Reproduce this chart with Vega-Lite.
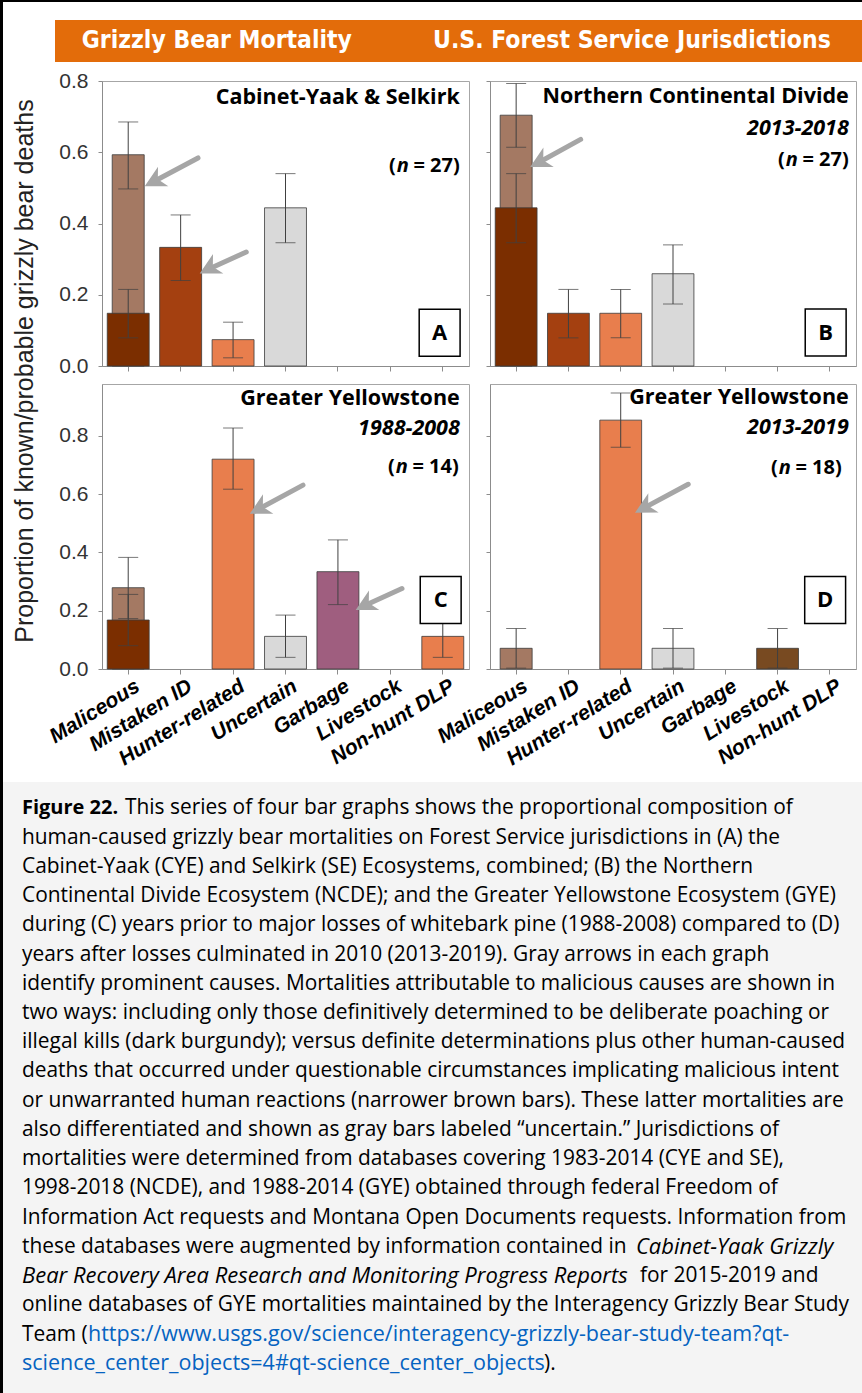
{
  "$schema": "https://vega.github.io/schema/vega-lite/v6.json",
  "padding": 0,
  "background": "white",
  "config": {
    "view": {"stroke": "#a6a6a6", "strokeWidth": 1},
    "axis": {"grid": false, "domainColor": "#8c8c8c", "tickColor": "#8c8c8c", "title": null, "labelFont": "Liberation Sans"}
  },
  "datasets": {
    "bars": [
      {"panel": "A", "cause": "Maliceous", "kind": "broad", "p": 0.593, "lo": 0.497, "hi": 0.685},
      {"panel": "A", "cause": "Maliceous", "kind": "definite", "p": 0.148, "lo": 0.079, "hi": 0.215},
      {"panel": "A", "cause": "Mistaken ID", "kind": "definite", "p": 0.333, "lo": 0.240, "hi": 0.424},
      {"panel": "A", "cause": "Hunter-related", "kind": "definite", "p": 0.074, "lo": 0.023, "hi": 0.123},
      {"panel": "A", "cause": "Uncertain", "kind": "definite", "p": 0.444, "lo": 0.346, "hi": 0.540},
      {"panel": "B", "cause": "Maliceous", "kind": "broad", "p": 0.704, "lo": 0.614, "hi": 0.793},
      {"panel": "B", "cause": "Maliceous", "kind": "definite", "p": 0.444, "lo": 0.346, "hi": 0.540},
      {"panel": "B", "cause": "Mistaken ID", "kind": "definite", "p": 0.148, "lo": 0.079, "hi": 0.215},
      {"panel": "B", "cause": "Hunter-related", "kind": "definite", "p": 0.148, "lo": 0.079, "hi": 0.215},
      {"panel": "B", "cause": "Uncertain", "kind": "definite", "p": 0.259, "lo": 0.174, "hi": 0.340},
      {"panel": "C", "cause": "Maliceous", "kind": "broad", "p": 0.279, "lo": 0.173, "hi": 0.383},
      {"panel": "C", "cause": "Maliceous", "kind": "definite", "p": 0.168, "lo": 0.080, "hi": 0.256},
      {"panel": "C", "cause": "Hunter-related", "kind": "definite", "p": 0.720, "lo": 0.617, "hi": 0.827},
      {"panel": "C", "cause": "Uncertain", "kind": "definite", "p": 0.112, "lo": 0.040, "hi": 0.185},
      {"panel": "C", "cause": "Garbage", "kind": "definite", "p": 0.334, "lo": 0.221, "hi": 0.443},
      {"panel": "C", "cause": "Non-hunt DLP", "kind": "definite", "p": 0.112, "lo": 0.040, "hi": 0.184},
      {"panel": "D", "cause": "Maliceous", "kind": "broad", "p": 0.071, "lo": 0.003, "hi": 0.139},
      {"panel": "D", "cause": "Hunter-related", "kind": "definite", "p": 0.854, "lo": 0.761, "hi": 0.947},
      {"panel": "D", "cause": "Uncertain", "kind": "definite", "p": 0.071, "lo": 0.003, "hi": 0.139},
      {"panel": "D", "cause": "Livestock", "kind": "definite", "p": 0.071, "lo": 0.003, "hi": 0.139}
    ],
    "arrows": [
      {"panel": "A", "x": 1.331, "y": 0.584, "x2": 0.426, "y2": 0.513},
      {"panel": "A", "x": 2.252, "y": 0.320, "x2": 1.475, "y2": 0.268},
      {"panel": "B", "x": 1.234, "y": 0.636, "x2": 0.379, "y2": 0.567},
      {"panel": "C", "x": 3.334, "y": 0.631, "x2": 2.429, "y2": 0.543},
      {"panel": "C", "x": 5.222, "y": 0.276, "x2": 4.45, "y2": 0.213},
      {"panel": "D", "x": 3.291, "y": 0.634, "x2": 2.385, "y2": 0.547}
    ],
    "boxes": [
      {"panel": "A", "x": 5.94, "y": 0.0935, "label": "A"},
      {"panel": "B", "x": 5.92, "y": 0.094, "label": "B"},
      {"panel": "C", "x": 5.96, "y": 0.237, "label": "C"},
      {"panel": "D", "x": 5.91, "y": 0.237, "label": "D"}
    ],
    "notes": [
      {"panel": "A", "role": "title", "text": "Cabinet-Yaak & Selkirk", "y": 0.753},
      {"panel": "A", "role": "n", "text": "= 27)", "y": 0.561},
      {"panel": "B", "role": "title", "text": "Northern Continental Divide", "y": 0.756},
      {"panel": "B", "role": "years", "text": "2013-2018", "y": 0.664},
      {"panel": "B", "role": "n", "text": "= 27)", "y": 0.577},
      {"panel": "C", "role": "title", "text": "Greater Yellowstone", "y": 0.928},
      {"panel": "C", "role": "years", "text": "1988-2008", "y": 0.823},
      {"panel": "C", "role": "n", "text": "= 14)", "y": 0.694},
      {"panel": "D", "role": "title", "text": "Greater Yellowstone", "y": 0.931},
      {"panel": "D", "role": "years", "text": "2013-2019", "y": 0.826},
      {"panel": "D", "role": "n", "text": "= 18)", "y": 0.691}
    ]
  },
  "spacing": 0,
  "hconcat": [
    {"width": 3, "height": 1393, "data": {"values": []}, "mark": "point", "view": {"fill": "#000000", "stroke": null}},
    {
      "spacing": 12,
      "vconcat": [
        {
          "spacing": 7,
          "vconcat": [
            {
              "spacing": 18,
              "vconcat": [
                {"width": 859, "height": 2, "data": {"values": []}, "mark": "point", "view": {"fill": "#000000", "stroke": null}},
                {
                  "spacing": 0,
                  "hconcat": [
                    {"width": 52, "height": 42, "data": {"values": []}, "mark": "point", "view": {"stroke": null}},
                    {
                      "width": 807, "height": 42,
                      "view": {"fill": "#e36c0a", "stroke": null},
                      "data": {"values": [{"t": "Grizzly Bear Mortality"}, {"t": "U.S. Forest Service Jurisdictions"}]},
                      "mark": {"type": "text", "font": "DejaVu Sans Condensed", "fontWeight": "bold", "fontSize": 24.5, "color": "#ffffff"},
                      "encoding": {
                        "text": {"field": "t"},
                        "x": {"field": "t", "type": "nominal", "sort": null, "scale": {"type": "point", "padding": 0.472, "align": 0.413}, "axis": null}
                      }
                    }
                  ]
                }
              ]
            },
            {
              "spacing": 0,
              "hconcat": [
                {
                  "width": 42, "height": 580,
                  "view": {"stroke": null},
                  "data": {"values": [{"t": "Proportion of known/probable grizzly bear deaths"}]},
                  "mark": {"type": "text", "angle": 270, "font": "Liberation Sans", "fontSize": 25, "color": "#222222"},
                  "encoding": {
                    "text": {"field": "t"},
                    "x": {"field": "t", "type": "nominal", "scale": {"type": "point", "align": 0.514}, "axis": null},
                    "y": {"field": "t", "type": "nominal", "scale": {"type": "point", "align": 0.5}, "axis": null}
                  }
                },
                {
                  "columns": 2,
                  "bounds": "flush",
                  "spacing": {"row": 18, "column": 21},
                  "concat": [
                    {
                      "width": 367, "height": 285,
                      "resolve": {"scale": {"x": "independent"}},
                      "layer": [
                        {
                          "encoding": {"x": {"field": "cause", "type": "nominal", "scale": {"domain": ["Maliceous", "Mistaken ID", "Hunter-related", "Uncertain", "Garbage", "Livestock", "Non-hunt DLP"], "paddingInner": 0.2, "paddingOuter": 0.1}, "axis": {"labels": false, "tickSize": 5, "bandPosition": 0.5}}},
                          "layer": [
                            {"data": {"name": "bars"}, "transform": [{"filter": "datum.panel === 'A' && datum.kind === 'broad'"}],
                             "mark": {"type": "bar", "width": 32, "color": "#a47963", "stroke": "#3b3b3b", "strokeWidth": 0.8},
                             "encoding": {"y": {"field": "p", "type": "quantitative", "scale": {"domain": [0, 0.8], "nice": false}, "axis": {"values": [0, 0.2, 0.4, 0.6, 0.8], "format": ".1f", "labelFontSize": 21, "labelColor": "#333333", "tickSize": 4, "labelPadding": 10}}}},
                            {"data": {"name": "bars"}, "transform": [{"filter": "datum.panel === 'A' && datum.kind === 'definite'"}],
                             "mark": {"type": "bar", "stroke": "#3b3b3b", "strokeWidth": 0.8},
                             "encoding": {"y": {"field": "p", "type": "quantitative"}, "color": {"field": "cause", "type": "nominal", "scale": {"domain": ["Maliceous", "Mistaken ID", "Hunter-related", "Uncertain", "Garbage", "Livestock", "Non-hunt DLP"], "range": ["#7b2e00", "#a44010", "#e87e4d", "#d9d9d9", "#9f5e7f", "#784a21", "#e87e4d"]}, "legend": null}}},
                            {"data": {"name": "bars"}, "transform": [{"filter": "datum.panel === 'A'"}],
                             "mark": {"type": "rule", "color": "#404040", "strokeWidth": 1},
                             "encoding": {"y": {"field": "lo", "type": "quantitative"}, "y2": {"field": "hi"}}},
                            {"data": {"name": "bars"}, "transform": [{"filter": "datum.panel === 'A'"}],
                             "mark": {"type": "tick", "orient": "horizontal", "size": 20, "thickness": 1, "color": "#404040"},
                             "encoding": {"y": {"field": "lo", "type": "quantitative"}}},
                            {"data": {"name": "bars"}, "transform": [{"filter": "datum.panel === 'A'"}],
                             "mark": {"type": "tick", "orient": "horizontal", "size": 20, "thickness": 1, "color": "#404040"},
                             "encoding": {"y": {"field": "hi", "type": "quantitative"}}},
                            {"data": {"name": "notes"}, "transform": [{"filter": "datum.panel === 'A' && datum.role === 'title'"}],
                             "mark": {"type": "text", "align": "right", "dx": -4, "font": "Open Sans", "fontWeight": "bold", "fontSize": 21.5, "color": "#000000"},
                             "encoding": {"x": {"datum": "Non-hunt DLP", "type": "nominal", "bandPosition": 1}, "y": {"field": "y", "type": "quantitative"}, "text": {"field": "text"}}},
                            {"data": {"name": "notes"}, "transform": [{"filter": "datum.panel === 'A' && datum.role === 'n'"}],
                             "mark": {"type": "text", "align": "right", "dx": -4, "font": "Open Sans", "fontWeight": "bold", "fontSize": 20, "color": "#000000"},
                             "encoding": {"x": {"datum": "Non-hunt DLP", "type": "nominal", "bandPosition": 1}, "y": {"field": "y", "type": "quantitative"}, "text": {"field": "text"}}},
                            {"data": {"name": "notes"}, "transform": [{"filter": "datum.panel === 'A' && datum.role === 'n'"}],
                             "mark": {"type": "text", "align": "right", "dx": -55, "font": "Open Sans", "fontWeight": "bold", "fontStyle": "italic", "fontSize": 20, "color": "#000000"},
                             "encoding": {"x": {"datum": "Non-hunt DLP", "type": "nominal", "bandPosition": 1}, "y": {"field": "y", "type": "quantitative"}, "text": {"value": "n"}}},
                            {"data": {"name": "notes"}, "transform": [{"filter": "datum.panel === 'A' && datum.role === 'n'"}],
                             "mark": {"type": "text", "align": "right", "dx": -68, "font": "Open Sans", "fontWeight": "bold", "fontSize": 20, "color": "#000000"},
                             "encoding": {"x": {"datum": "Non-hunt DLP", "type": "nominal", "bandPosition": 1}, "y": {"field": "y", "type": "quantitative"}, "text": {"value": "("}}}
                          ]
                        },
                        {
                          "encoding": {"x": {"field": "x", "type": "quantitative", "scale": {"domain": [-0.5, 6.5], "nice": false, "zero": false}, "axis": null}},
                          "layer": [
                            {"data": {"name": "arrows"}, "transform": [{"filter": "datum.panel === 'A'"}],
                             "mark": {"type": "rule", "color": "#a6a6a6", "strokeWidth": 5, "strokeCap": "round"},
                             "encoding": {"y": {"field": "y", "type": "quantitative"}, "x2": {"field": "x2"}, "y2": {"field": "y2"}}},
                            {"data": {"name": "arrows"}, "transform": [{"filter": "datum.panel === 'A'"}],
                             "mark": {"type": "point", "filled": true, "color": "#a6a6a6", "opacity": 1, "shape": "M0,-0.6L1,1.3L0,0.75L-1,1.3Z", "size": 484, "angle": 242},
                             "encoding": {"x": {"field": "x2", "type": "quantitative"}, "y": {"field": "y2", "type": "quantitative"}}},
                            {"data": {"name": "boxes"}, "transform": [{"filter": "datum.panel === 'A'"}],
                             "mark": {"type": "point", "shape": "M-0.87,-1L0.87,-1L0.87,1L-0.87,1Z", "size": 2209, "fill": "#ffffff", "stroke": "#000000", "strokeWidth": 1.5, "opacity": 1, "fillOpacity": 1},
                             "encoding": {"y": {"field": "y", "type": "quantitative"}}},
                            {"data": {"name": "boxes"}, "transform": [{"filter": "datum.panel === 'A'"}],
                             "mark": {"type": "text", "font": "Open Sans", "fontWeight": "bold", "fontSize": 22, "color": "#000000"},
                             "encoding": {"y": {"field": "y", "type": "quantitative"}, "text": {"field": "label"}}}
                          ]
                        }
                      ]
                    },
                    {
                      "width": 366, "height": 285,
                      "resolve": {"scale": {"x": "independent"}},
                      "layer": [
                        {
                          "encoding": {"x": {"field": "cause", "type": "nominal", "scale": {"domain": ["Maliceous", "Mistaken ID", "Hunter-related", "Uncertain", "Garbage", "Livestock", "Non-hunt DLP"], "paddingInner": 0.2, "paddingOuter": 0.1}, "axis": {"labels": false, "tickSize": 5, "bandPosition": 0.5}}},
                          "layer": [
                            {"data": {"name": "bars"}, "transform": [{"filter": "datum.panel === 'B' && datum.kind === 'broad'"}],
                             "mark": {"type": "bar", "width": 32, "color": "#a47963", "stroke": "#3b3b3b", "strokeWidth": 0.8},
                             "encoding": {"y": {"field": "p", "type": "quantitative", "scale": {"domain": [0, 0.8], "nice": false}, "axis": {"values": [0, 0.2, 0.4, 0.6, 0.8], "labels": false, "tickSize": 4}}}},
                            {"data": {"name": "bars"}, "transform": [{"filter": "datum.panel === 'B' && datum.kind === 'definite'"}],
                             "mark": {"type": "bar", "stroke": "#3b3b3b", "strokeWidth": 0.8},
                             "encoding": {"y": {"field": "p", "type": "quantitative"}, "color": {"field": "cause", "type": "nominal", "scale": {"domain": ["Maliceous", "Mistaken ID", "Hunter-related", "Uncertain", "Garbage", "Livestock", "Non-hunt DLP"], "range": ["#7b2e00", "#a44010", "#e87e4d", "#d9d9d9", "#9f5e7f", "#784a21", "#e87e4d"]}, "legend": null}}},
                            {"data": {"name": "bars"}, "transform": [{"filter": "datum.panel === 'B'"}],
                             "mark": {"type": "rule", "color": "#404040", "strokeWidth": 1},
                             "encoding": {"y": {"field": "lo", "type": "quantitative"}, "y2": {"field": "hi"}}},
                            {"data": {"name": "bars"}, "transform": [{"filter": "datum.panel === 'B'"}],
                             "mark": {"type": "tick", "orient": "horizontal", "size": 20, "thickness": 1, "color": "#404040"},
                             "encoding": {"y": {"field": "lo", "type": "quantitative"}}},
                            {"data": {"name": "bars"}, "transform": [{"filter": "datum.panel === 'B'"}],
                             "mark": {"type": "tick", "orient": "horizontal", "size": 20, "thickness": 1, "color": "#404040"},
                             "encoding": {"y": {"field": "hi", "type": "quantitative"}}},
                            {"data": {"name": "notes"}, "transform": [{"filter": "datum.panel === 'B' && datum.role === 'title'"}],
                             "mark": {"type": "text", "align": "right", "dx": -2, "font": "Open Sans", "fontWeight": "bold", "fontSize": 21.5, "color": "#000000"},
                             "encoding": {"x": {"datum": "Non-hunt DLP", "type": "nominal", "bandPosition": 1}, "y": {"field": "y", "type": "quantitative"}, "text": {"field": "text"}}},
                            {"data": {"name": "notes"}, "transform": [{"filter": "datum.panel === 'B' && datum.role === 'n'"}],
                             "mark": {"type": "text", "align": "right", "dx": -2, "font": "Open Sans", "fontWeight": "bold", "fontSize": 20, "color": "#000000"},
                             "encoding": {"x": {"datum": "Non-hunt DLP", "type": "nominal", "bandPosition": 1}, "y": {"field": "y", "type": "quantitative"}, "text": {"field": "text"}}},
                            {"data": {"name": "notes"}, "transform": [{"filter": "datum.panel === 'B' && datum.role === 'n'"}],
                             "mark": {"type": "text", "align": "right", "dx": -53, "font": "Open Sans", "fontWeight": "bold", "fontStyle": "italic", "fontSize": 20, "color": "#000000"},
                             "encoding": {"x": {"datum": "Non-hunt DLP", "type": "nominal", "bandPosition": 1}, "y": {"field": "y", "type": "quantitative"}, "text": {"value": "n"}}},
                            {"data": {"name": "notes"}, "transform": [{"filter": "datum.panel === 'B' && datum.role === 'n'"}],
                             "mark": {"type": "text", "align": "right", "dx": -66, "font": "Open Sans", "fontWeight": "bold", "fontSize": 20, "color": "#000000"},
                             "encoding": {"x": {"datum": "Non-hunt DLP", "type": "nominal", "bandPosition": 1}, "y": {"field": "y", "type": "quantitative"}, "text": {"value": "("}}},
                            {"data": {"name": "notes"}, "transform": [{"filter": "datum.panel === 'B' && datum.role === 'years'"}],
                             "mark": {"type": "text", "align": "right", "dx": -2, "font": "Open Sans", "fontWeight": "bold", "fontStyle": "italic", "fontSize": 21.5, "color": "#000000"},
                             "encoding": {"x": {"datum": "Non-hunt DLP", "type": "nominal", "bandPosition": 1}, "y": {"field": "y", "type": "quantitative"}, "text": {"field": "text"}}}
                          ]
                        },
                        {
                          "encoding": {"x": {"field": "x", "type": "quantitative", "scale": {"domain": [-0.5, 6.5], "nice": false, "zero": false}, "axis": null}},
                          "layer": [
                            {"data": {"name": "arrows"}, "transform": [{"filter": "datum.panel === 'B'"}],
                             "mark": {"type": "rule", "color": "#a6a6a6", "strokeWidth": 5, "strokeCap": "round"},
                             "encoding": {"y": {"field": "y", "type": "quantitative"}, "x2": {"field": "x2"}, "y2": {"field": "y2"}}},
                            {"data": {"name": "arrows"}, "transform": [{"filter": "datum.panel === 'B'"}],
                             "mark": {"type": "point", "filled": true, "color": "#a6a6a6", "opacity": 1, "shape": "M0,-0.6L1,1.3L0,0.75L-1,1.3Z", "size": 484, "angle": 242},
                             "encoding": {"x": {"field": "x2", "type": "quantitative"}, "y": {"field": "y2", "type": "quantitative"}}},
                            {"data": {"name": "boxes"}, "transform": [{"filter": "datum.panel === 'B'"}],
                             "mark": {"type": "point", "shape": "M-0.87,-1L0.87,-1L0.87,1L-0.87,1Z", "size": 2209, "fill": "#ffffff", "stroke": "#000000", "strokeWidth": 1.5, "opacity": 1, "fillOpacity": 1},
                             "encoding": {"y": {"field": "y", "type": "quantitative"}}},
                            {"data": {"name": "boxes"}, "transform": [{"filter": "datum.panel === 'B'"}],
                             "mark": {"type": "text", "font": "Open Sans", "fontWeight": "bold", "fontSize": 22, "color": "#000000"},
                             "encoding": {"y": {"field": "y", "type": "quantitative"}, "text": {"field": "label"}}}
                          ]
                        }
                      ]
                    },
                    {
                      "width": 367, "height": 285,
                      "resolve": {"scale": {"x": "independent"}},
                      "layer": [
                        {
                          "encoding": {"x": {"field": "cause", "type": "nominal", "scale": {"domain": ["Maliceous", "Mistaken ID", "Hunter-related", "Uncertain", "Garbage", "Livestock", "Non-hunt DLP"], "paddingInner": 0.2, "paddingOuter": 0.1}, "axis": {"labelAngle": -32, "labelOffset": 4, "labelFontSize": 21, "labelFontWeight": "bold", "labelFontStyle": "italic", "labelColor": "#000000", "labelOverlap": false, "labelPadding": 1, "tickSize": 5, "bandPosition": 0.5}}},
                          "layer": [
                            {"data": {"name": "bars"}, "transform": [{"filter": "datum.panel === 'C' && datum.kind === 'broad'"}],
                             "mark": {"type": "bar", "width": 32, "color": "#a47963", "stroke": "#3b3b3b", "strokeWidth": 0.8},
                             "encoding": {"y": {"field": "p", "type": "quantitative", "scale": {"domain": [0, 0.978], "nice": false}, "axis": {"values": [0, 0.2, 0.4, 0.6, 0.8], "format": ".1f", "labelFontSize": 21, "labelColor": "#333333", "tickSize": 4, "labelPadding": 10}}}},
                            {"data": {"name": "bars"}, "transform": [{"filter": "datum.panel === 'C' && datum.kind === 'definite'"}],
                             "mark": {"type": "bar", "stroke": "#3b3b3b", "strokeWidth": 0.8},
                             "encoding": {"y": {"field": "p", "type": "quantitative"}, "color": {"field": "cause", "type": "nominal", "scale": {"domain": ["Maliceous", "Mistaken ID", "Hunter-related", "Uncertain", "Garbage", "Livestock", "Non-hunt DLP"], "range": ["#7b2e00", "#a44010", "#e87e4d", "#d9d9d9", "#9f5e7f", "#784a21", "#e87e4d"]}, "legend": null}}},
                            {"data": {"name": "bars"}, "transform": [{"filter": "datum.panel === 'C'"}],
                             "mark": {"type": "rule", "color": "#404040", "strokeWidth": 1},
                             "encoding": {"y": {"field": "lo", "type": "quantitative"}, "y2": {"field": "hi"}}},
                            {"data": {"name": "bars"}, "transform": [{"filter": "datum.panel === 'C'"}],
                             "mark": {"type": "tick", "orient": "horizontal", "size": 20, "thickness": 1, "color": "#404040"},
                             "encoding": {"y": {"field": "lo", "type": "quantitative"}}},
                            {"data": {"name": "bars"}, "transform": [{"filter": "datum.panel === 'C'"}],
                             "mark": {"type": "tick", "orient": "horizontal", "size": 20, "thickness": 1, "color": "#404040"},
                             "encoding": {"y": {"field": "hi", "type": "quantitative"}}},
                            {"data": {"name": "notes"}, "transform": [{"filter": "datum.panel === 'C' && datum.role === 'title'"}],
                             "mark": {"type": "text", "align": "right", "dx": -4, "font": "Open Sans", "fontWeight": "bold", "fontSize": 21.5, "color": "#000000"},
                             "encoding": {"x": {"datum": "Non-hunt DLP", "type": "nominal", "bandPosition": 1}, "y": {"field": "y", "type": "quantitative"}, "text": {"field": "text"}}},
                            {"data": {"name": "notes"}, "transform": [{"filter": "datum.panel === 'C' && datum.role === 'n'"}],
                             "mark": {"type": "text", "align": "right", "dx": -5, "font": "Open Sans", "fontWeight": "bold", "fontSize": 20, "color": "#000000"},
                             "encoding": {"x": {"datum": "Non-hunt DLP", "type": "nominal", "bandPosition": 1}, "y": {"field": "y", "type": "quantitative"}, "text": {"field": "text"}}},
                            {"data": {"name": "notes"}, "transform": [{"filter": "datum.panel === 'C' && datum.role === 'n'"}],
                             "mark": {"type": "text", "align": "right", "dx": -56, "font": "Open Sans", "fontWeight": "bold", "fontStyle": "italic", "fontSize": 20, "color": "#000000"},
                             "encoding": {"x": {"datum": "Non-hunt DLP", "type": "nominal", "bandPosition": 1}, "y": {"field": "y", "type": "quantitative"}, "text": {"value": "n"}}},
                            {"data": {"name": "notes"}, "transform": [{"filter": "datum.panel === 'C' && datum.role === 'n'"}],
                             "mark": {"type": "text", "align": "right", "dx": -69, "font": "Open Sans", "fontWeight": "bold", "fontSize": 20, "color": "#000000"},
                             "encoding": {"x": {"datum": "Non-hunt DLP", "type": "nominal", "bandPosition": 1}, "y": {"field": "y", "type": "quantitative"}, "text": {"value": "("}}},
                            {"data": {"name": "notes"}, "transform": [{"filter": "datum.panel === 'C' && datum.role === 'years'"}],
                             "mark": {"type": "text", "align": "right", "dx": -4, "font": "Open Sans", "fontWeight": "bold", "fontStyle": "italic", "fontSize": 21.5, "color": "#000000"},
                             "encoding": {"x": {"datum": "Non-hunt DLP", "type": "nominal", "bandPosition": 1}, "y": {"field": "y", "type": "quantitative"}, "text": {"field": "text"}}}
                          ]
                        },
                        {
                          "encoding": {"x": {"field": "x", "type": "quantitative", "scale": {"domain": [-0.5, 6.5], "nice": false, "zero": false}, "axis": null}},
                          "layer": [
                            {"data": {"name": "arrows"}, "transform": [{"filter": "datum.panel === 'C'"}],
                             "mark": {"type": "rule", "color": "#a6a6a6", "strokeWidth": 5, "strokeCap": "round"},
                             "encoding": {"y": {"field": "y", "type": "quantitative"}, "x2": {"field": "x2"}, "y2": {"field": "y2"}}},
                            {"data": {"name": "arrows"}, "transform": [{"filter": "datum.panel === 'C'"}],
                             "mark": {"type": "point", "filled": true, "color": "#a6a6a6", "opacity": 1, "shape": "M0,-0.6L1,1.3L0,0.75L-1,1.3Z", "size": 484, "angle": 242},
                             "encoding": {"x": {"field": "x2", "type": "quantitative"}, "y": {"field": "y2", "type": "quantitative"}}},
                            {"data": {"name": "boxes"}, "transform": [{"filter": "datum.panel === 'C'"}],
                             "mark": {"type": "point", "shape": "M-0.87,-1L0.87,-1L0.87,1L-0.87,1Z", "size": 2209, "fill": "#ffffff", "stroke": "#000000", "strokeWidth": 1.5, "opacity": 1, "fillOpacity": 1},
                             "encoding": {"y": {"field": "y", "type": "quantitative"}}},
                            {"data": {"name": "boxes"}, "transform": [{"filter": "datum.panel === 'C'"}],
                             "mark": {"type": "text", "font": "Open Sans", "fontWeight": "bold", "fontSize": 22, "color": "#000000"},
                             "encoding": {"y": {"field": "y", "type": "quantitative"}, "text": {"field": "label"}}}
                          ]
                        }
                      ]
                    },
                    {
                      "width": 366, "height": 285,
                      "resolve": {"scale": {"x": "independent"}},
                      "layer": [
                        {
                          "encoding": {"x": {"field": "cause", "type": "nominal", "scale": {"domain": ["Maliceous", "Mistaken ID", "Hunter-related", "Uncertain", "Garbage", "Livestock", "Non-hunt DLP"], "paddingInner": 0.2, "paddingOuter": 0.1}, "axis": {"labelAngle": -32, "labelOffset": 4, "labelFontSize": 21, "labelFontWeight": "bold", "labelFontStyle": "italic", "labelColor": "#000000", "labelOverlap": false, "labelPadding": 1, "tickSize": 5, "bandPosition": 0.5}}},
                          "layer": [
                            {"data": {"name": "bars"}, "transform": [{"filter": "datum.panel === 'D' && datum.kind === 'broad'"}],
                             "mark": {"type": "bar", "width": 32, "color": "#a47963", "stroke": "#3b3b3b", "strokeWidth": 0.8},
                             "encoding": {"y": {"field": "p", "type": "quantitative", "scale": {"domain": [0, 0.978], "nice": false}, "axis": {"values": [0, 0.2, 0.4, 0.6, 0.8], "labels": false, "tickSize": 4}}}},
                            {"data": {"name": "bars"}, "transform": [{"filter": "datum.panel === 'D' && datum.kind === 'definite'"}],
                             "mark": {"type": "bar", "stroke": "#3b3b3b", "strokeWidth": 0.8},
                             "encoding": {"y": {"field": "p", "type": "quantitative"}, "color": {"field": "cause", "type": "nominal", "scale": {"domain": ["Maliceous", "Mistaken ID", "Hunter-related", "Uncertain", "Garbage", "Livestock", "Non-hunt DLP"], "range": ["#7b2e00", "#a44010", "#e87e4d", "#d9d9d9", "#9f5e7f", "#784a21", "#e87e4d"]}, "legend": null}}},
                            {"data": {"name": "bars"}, "transform": [{"filter": "datum.panel === 'D'"}],
                             "mark": {"type": "rule", "color": "#404040", "strokeWidth": 1},
                             "encoding": {"y": {"field": "lo", "type": "quantitative"}, "y2": {"field": "hi"}}},
                            {"data": {"name": "bars"}, "transform": [{"filter": "datum.panel === 'D'"}],
                             "mark": {"type": "tick", "orient": "horizontal", "size": 20, "thickness": 1, "color": "#404040"},
                             "encoding": {"y": {"field": "lo", "type": "quantitative"}}},
                            {"data": {"name": "bars"}, "transform": [{"filter": "datum.panel === 'D'"}],
                             "mark": {"type": "tick", "orient": "horizontal", "size": 20, "thickness": 1, "color": "#404040"},
                             "encoding": {"y": {"field": "hi", "type": "quantitative"}}},
                            {"data": {"name": "notes"}, "transform": [{"filter": "datum.panel === 'D' && datum.role === 'title'"}],
                             "mark": {"type": "text", "align": "right", "dx": -2, "font": "Open Sans", "fontWeight": "bold", "fontSize": 21.5, "color": "#000000"},
                             "encoding": {"x": {"datum": "Non-hunt DLP", "type": "nominal", "bandPosition": 1}, "y": {"field": "y", "type": "quantitative"}, "text": {"field": "text"}}},
                            {"data": {"name": "notes"}, "transform": [{"filter": "datum.panel === 'D' && datum.role === 'n'"}],
                             "mark": {"type": "text", "align": "right", "dx": -9, "font": "Open Sans", "fontWeight": "bold", "fontSize": 20, "color": "#000000"},
                             "encoding": {"x": {"datum": "Non-hunt DLP", "type": "nominal", "bandPosition": 1}, "y": {"field": "y", "type": "quantitative"}, "text": {"field": "text"}}},
                            {"data": {"name": "notes"}, "transform": [{"filter": "datum.panel === 'D' && datum.role === 'n'"}],
                             "mark": {"type": "text", "align": "right", "dx": -60, "font": "Open Sans", "fontWeight": "bold", "fontStyle": "italic", "fontSize": 20, "color": "#000000"},
                             "encoding": {"x": {"datum": "Non-hunt DLP", "type": "nominal", "bandPosition": 1}, "y": {"field": "y", "type": "quantitative"}, "text": {"value": "n"}}},
                            {"data": {"name": "notes"}, "transform": [{"filter": "datum.panel === 'D' && datum.role === 'n'"}],
                             "mark": {"type": "text", "align": "right", "dx": -73, "font": "Open Sans", "fontWeight": "bold", "fontSize": 20, "color": "#000000"},
                             "encoding": {"x": {"datum": "Non-hunt DLP", "type": "nominal", "bandPosition": 1}, "y": {"field": "y", "type": "quantitative"}, "text": {"value": "("}}},
                            {"data": {"name": "notes"}, "transform": [{"filter": "datum.panel === 'D' && datum.role === 'years'"}],
                             "mark": {"type": "text", "align": "right", "dx": -2, "font": "Open Sans", "fontWeight": "bold", "fontStyle": "italic", "fontSize": 21.5, "color": "#000000"},
                             "encoding": {"x": {"datum": "Non-hunt DLP", "type": "nominal", "bandPosition": 1}, "y": {"field": "y", "type": "quantitative"}, "text": {"field": "text"}}}
                          ]
                        },
                        {
                          "encoding": {"x": {"field": "x", "type": "quantitative", "scale": {"domain": [-0.5, 6.5], "nice": false, "zero": false}, "axis": null}},
                          "layer": [
                            {"data": {"name": "arrows"}, "transform": [{"filter": "datum.panel === 'D'"}],
                             "mark": {"type": "rule", "color": "#a6a6a6", "strokeWidth": 5, "strokeCap": "round"},
                             "encoding": {"y": {"field": "y", "type": "quantitative"}, "x2": {"field": "x2"}, "y2": {"field": "y2"}}},
                            {"data": {"name": "arrows"}, "transform": [{"filter": "datum.panel === 'D'"}],
                             "mark": {"type": "point", "filled": true, "color": "#a6a6a6", "opacity": 1, "shape": "M0,-0.6L1,1.3L0,0.75L-1,1.3Z", "size": 484, "angle": 242},
                             "encoding": {"x": {"field": "x2", "type": "quantitative"}, "y": {"field": "y2", "type": "quantitative"}}},
                            {"data": {"name": "boxes"}, "transform": [{"filter": "datum.panel === 'D'"}],
                             "mark": {"type": "point", "shape": "M-0.87,-1L0.87,-1L0.87,1L-0.87,1Z", "size": 2209, "fill": "#ffffff", "stroke": "#000000", "strokeWidth": 1.5, "opacity": 1, "fillOpacity": 1},
                             "encoding": {"y": {"field": "y", "type": "quantitative"}}},
                            {"data": {"name": "boxes"}, "transform": [{"filter": "datum.panel === 'D'"}],
                             "mark": {"type": "text", "font": "Open Sans", "fontWeight": "bold", "fontSize": 22, "color": "#000000"},
                             "encoding": {"y": {"field": "y", "type": "quantitative"}, "text": {"field": "label"}}}
                          ]
                        }
                      ]
                    }
                  ]
                }
              ]
            }
          ]
        },
        {
          "width": 859, "height": 614,
          "view": {"fill": "#f4f4f4", "stroke": null},
          "encoding": {
            "x": {"datum": "caption", "type": "nominal", "scale": {"type": "point", "align": 0.0221}, "axis": null},
            "y": {"field": "line", "type": "ordinal", "scale": {"type": "point", "domain": [0, 1, 2, 3, 4, 5, 6, 7, 8, 9, 10, 11, 12, 13, 14, 15, 16, 17, 18, 19], "padding": 1.07, "align": 0.45}, "axis": null},
            "text": {"field": "text"}
          },
          "layer": [
            {"data": {"values": [
              {"line": 1, "text": "human-caused grizzly bear mortalities on Forest Service jurisdictions in (A) the"},
              {"line": 2, "text": "Cabinet-Yaak (CYE) and Selkirk (SE) Ecosystems, combined; (B) the Northern"},
              {"line": 3, "text": "Continental Divide Ecosystem (NCDE); and the Greater Yellowstone Ecosystem (GYE)"},
              {"line": 4, "text": "during (C) years prior to major losses of whitebark pine (1988-2008) compared to (D)"},
              {"line": 5, "text": "years after losses culminated in 2010 (2013-2019). Gray arrows in each graph"},
              {"line": 6, "text": "identify prominent causes. Mortalities attributable to malicious causes are shown in"},
              {"line": 7, "text": "two ways: including only those definitively determined to be deliberate poaching or"},
              {"line": 8, "text": "illegal kills (dark burgundy); versus definite determinations plus other human-caused"},
              {"line": 9, "text": "deaths that occurred under questionable circumstances implicating malicious intent"},
              {"line": 10, "text": "or unwarranted human reactions (narrower brown bars). These latter mortalities are"},
              {"line": 11, "text": "also differentiated and shown as gray bars labeled “uncertain.” Jurisdictions of"},
              {"line": 12, "text": "mortalities were determined from databases covering 1983-2014 (CYE and SE),"},
              {"line": 13, "text": "1998-2018 (NCDE), and 1988-2014 (GYE) obtained through federal Freedom of"},
              {"line": 14, "text": "Information Act requests and Montana Open Documents requests. Information from"},
              {"line": 15, "text": "these databases were augmented by information contained in"},
              {"line": 17, "text": "online databases of GYE mortalities maintained by the Interagency Grizzly Bear Study"},
              {"line": 18, "text": "Team ("}
            ]},
             "mark": {"type": "text", "align": "left", "font": "Open Sans", "fontSize": 20.9, "color": "#000000"}},
            {"data": {"values": [{"line": 0, "text": "Figure 22."}]},
             "mark": {"type": "text", "align": "left", "font": "Open Sans", "fontWeight": "bold", "fontSize": 20, "color": "#000000"}},
            {"data": {"values": [{"line": 0, "text": "This series of four bar graphs shows the proportional composition of"}]},
             "mark": {"type": "text", "align": "left", "dx": 103, "font": "Open Sans", "fontSize": 20.9, "color": "#000000"}},
            {"data": {"values": [{"line": 15, "text": "Cabinet-Yaak Grizzly"}]},
             "mark": {"type": "text", "align": "left", "dx": 614, "font": "Open Sans", "fontStyle": "italic", "fontSize": 21.9, "color": "#000000"}},
            {"data": {"values": [{"line": 16, "text": "Bear Recovery Area Research and Monitoring Progress Reports"}]},
             "mark": {"type": "text", "align": "left", "font": "Open Sans", "fontStyle": "italic", "fontSize": 22, "color": "#000000"}},
            {"data": {"values": [{"line": 16, "text": "for 2015-2019 and"}]},
             "mark": {"type": "text", "align": "left", "dx": 618, "font": "Open Sans", "fontSize": 20.9, "color": "#000000"}},
            {"data": {"values": [{"line": 18, "text": "https://www.usgs.gov/science/interagency-grizzly-bear-study-team?qt-"}]},
             "mark": {"type": "text", "align": "left", "dx": 66, "font": "Open Sans", "fontSize": 21.5, "color": "#0563c1"}},
            {"data": {"values": [{"line": 19, "text": "science_center_objects=4#qt-science_center_objects"}]},
             "mark": {"type": "text", "align": "left", "font": "Open Sans", "fontSize": 21.5, "color": "#0563c1"}},
            {"data": {"values": [{"line": 19, "text": ")."}]},
             "mark": {"type": "text", "align": "left", "dx": 522, "font": "Open Sans", "fontSize": 20.9, "color": "#000000"}}
          ]
        }
      ]
    }
  ]
}
